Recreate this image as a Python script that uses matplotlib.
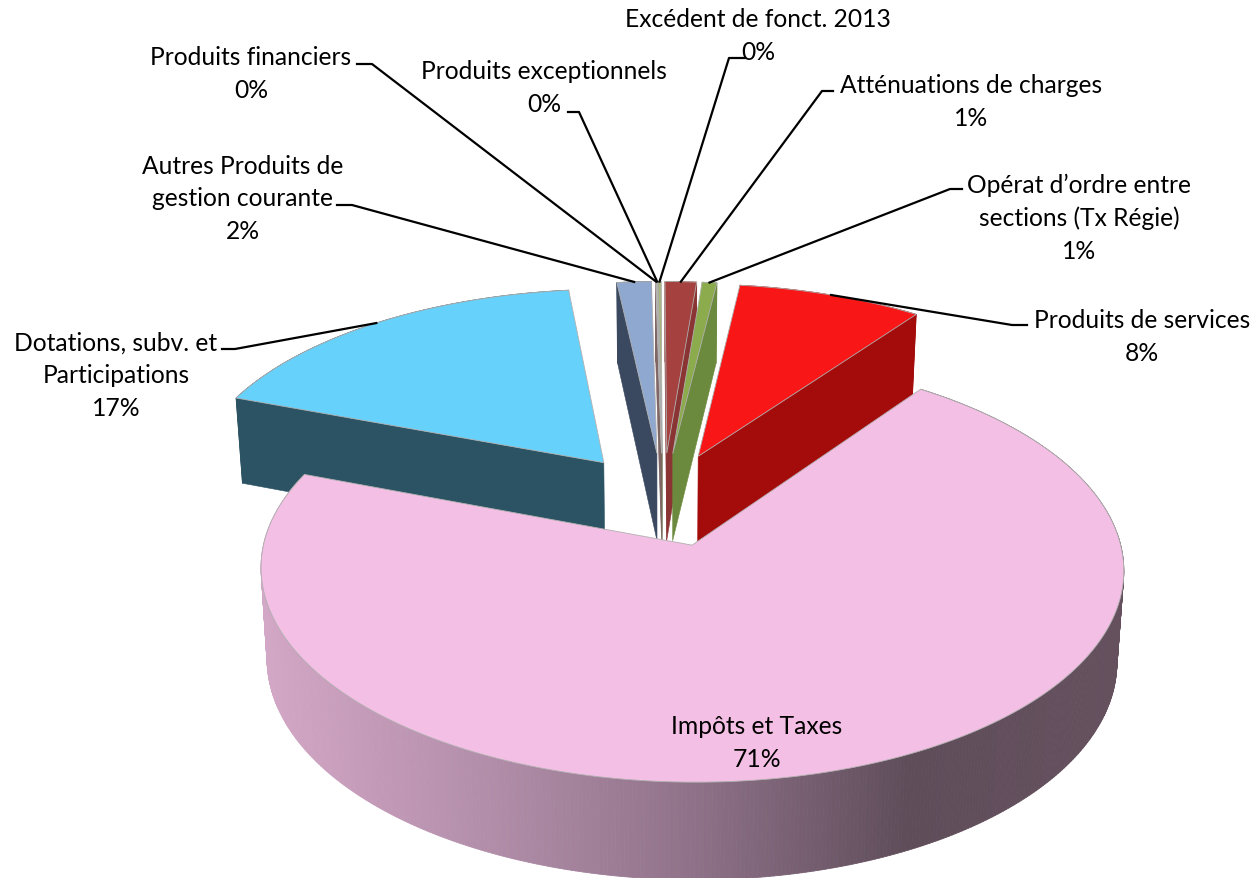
import numpy as np
import matplotlib
matplotlib.use("Agg")
import matplotlib.pyplot as plt
from matplotlib.collections import PolyCollection
from matplotlib.colors import LinearSegmentedColormap

plt.rcParams["font.family"] = ["Lato", "DejaVu Sans"]

# Parts du budget, dans le sens des aiguilles en partant du haut gauche
categories = [
    "Autres Produits de\ngestion courante",
    "Produits financiers",
    "Produits exceptionnels",
    "Excédent de fonct. 2013",
    "Atténuations de charges",
    "Opérat d’ordre entre\nsections (Tx Régie)",
    "Produits de services",
    "Impôts et Taxes",
    "Dotations, subv. et\nParticipations",
]
valeurs = [1.5, 0.03, 0.05, 0.12, 1.37, 0.64, 8.05, 70.65, 17.55]
pourcents = ["2%", "0%", "0%", "0%", "1%", "1%", "8%", "71%", "17%"]

couleurs_dessus = ["#8FA8D0", "#D9B8B6", "#C5D6A4", "#A9B878", "#A5423F", "#8BAB4C", "#F81616", "#F4BFE4", "#66D1FB"]
couleurs_cote = ["#3A4860", "#7F6664", "#707A5A", "#666E48", "#8A3533", "#6C8A3D", "#A30C0B", "#000000", "#2B5363"]

# Position des textes (centre x, centre y) et coudes des traits de rappel
pos_textes = [(243, 199), (251, 74), (544, 88), (758, 36), (971, 102), (1079, 218), (1142, 337), (757, 743), (116, 376)]
coudes = [
    [(337, 206), (352, 206)],
    [(357, 65), (372, 65)],
    [(568, 113), (579, 113)],
    [(745, 59), (729, 59)],
    [(833, 92), (822, 92)],
    [(962, 190), (950, 190)],
    [(1027, 326), (1012, 326)],
    None,
    [(222, 350), (235, 350)],
]

# Projection en perspective du camembert
CX, CY = 663, 500
RX, RY = 418, 200
K = 0.11
EXPLOSION = 0.235
ANGLE_DEPART = 96.34

rose_cote = LinearSegmentedColormap.from_list(
    "rose", ["#D3A7C6", "#B48FAB", "#8F7289", "#5F4D5A", "#65505E"]
)


def projette(x, y, bas=False):
    x = np.asarray(x, dtype=float)
    y = np.asarray(y, dtype=float)
    s = 1 / (1 + K * y)
    px = CX + RX * x * s
    py = CY - RY * y * s
    if bas:
        px = CX + (px - CX) * 0.985
        py = py + 89 - 7 * y
    return px, py


def quad(x1, y1, x2, y2):
    ax1, ay1 = projette(x1, y1)
    ax2, ay2 = projette(x2, y2)
    bx2, by2 = projette(x2, y2, bas=True)
    bx1, by1 = projette(x1, y1, bas=True)
    return [(ax1, ay1), (ax2, ay2), (bx2, by2), (bx1, by1)]


fig = plt.figure(figsize=(12.56, 8.79), dpi=100)
ax = fig.add_axes([0, 0, 1, 1])
ax.set_xlim(0, 1256)
ax.set_ylim(879, 0)
ax.axis("off")

parts = np.array(valeurs) / sum(valeurs) * 360
fins = ANGLE_DEPART - np.cumsum(parts)
debuts = fins + parts
milieux = (debuts + fins) / 2

# du plus loin au plus proche
ordre = np.argsort(-np.sin(np.radians(milieux)))
ancres = {}

for i in ordre:
    m = np.radians(milieux[i])
    ox, oy = EXPLOSION * np.cos(m), EXPLOSION * np.sin(m)
    th = np.radians(np.linspace(debuts[i], fins[i], max(int(parts[i] * 2), 3)))
    xs = ox + np.cos(th)
    ys = oy + np.sin(th)
    ancres[i] = projette(ox + np.cos(m), oy + np.sin(m))

    # flanc extérieur
    polys = [quad(xs[j], ys[j], xs[j + 1], ys[j + 1]) for j in range(len(th) - 1)]
    if categories[i] == "Impôts et Taxes":
        cx_q = np.array([np.mean([p[0] for p in q]) for q in polys])
        c = rose_cote((cx_q - 260) / (1124 - 260))
    else:
        c = [couleurs_cote[i]] * len(polys)
    ax.add_collection(PolyCollection(polys, facecolors=c, edgecolors=c, linewidths=0.6, zorder=2))

    # flancs radiaux, seulement ceux tournés vers la caméra
    cam_y = -1 / K
    for bord, signe in ((th[0], 1), (th[-1], -1)):
        nx, ny = -signe * np.sin(bord), signe * np.cos(bord)
        if nx * (0 - ox) + ny * (cam_y - oy) > 0:
            q = quad(ox, oy, ox + np.cos(bord), oy + np.sin(bord))
            ax.fill([p[0] for p in q], [p[1] for p in q], color=couleurs_cote[i], lw=0.4, zorder=2)

    # dessus
    px, py = projette(np.r_[ox, xs], np.r_[oy, ys])
    ax.fill(px, py, facecolor=couleurs_dessus[i], edgecolor="#B0B0B0", lw=0.6, zorder=2)

# traits de rappel
for i, coude in enumerate(coudes):
    if coude is None:
        continue
    lx = [p[0] for p in coude] + [float(ancres[i][0])]
    ly = [p[1] for p in coude] + [float(ancres[i][1])]
    ax.plot(lx, ly, color="black", lw=1.6, solid_joinstyle="round", zorder=3)

# étiquettes
for nom, pct, (x, y) in zip(categories, pourcents, pos_textes):
    ax.text(x, y, nom + "\n" + pct, ha="center", va="center", fontsize=17.7,
            linespacing=1.5, color="black", zorder=4)

fig.savefig("out.png", dpi=100)
